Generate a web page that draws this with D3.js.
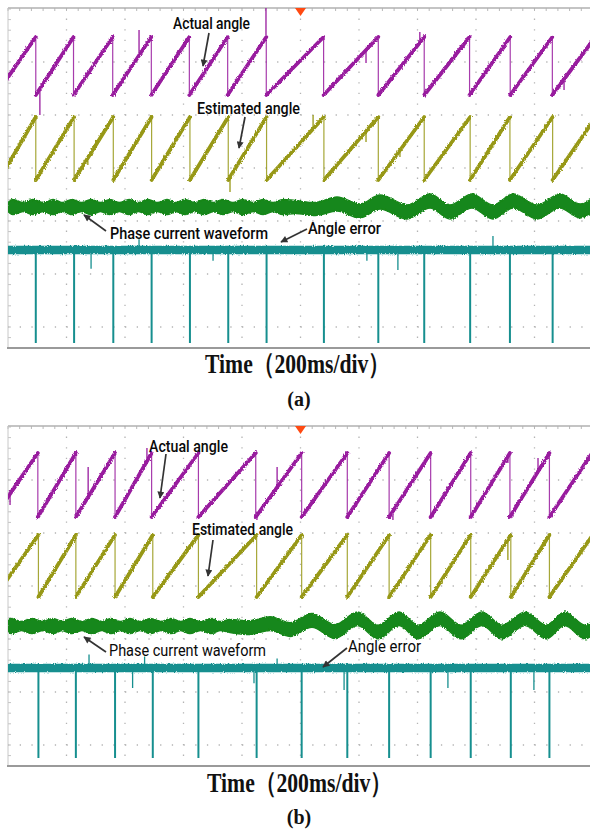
<!DOCTYPE html>
<html>
<head>
<meta charset="utf-8">
<script src="https://cdn.jsdelivr.net/npm/d3@7/dist/d3.min.js"></script>
<style>
  html, body { margin: 0; padding: 0; background: #fff; }
  svg { display: block; }
</style>
</head>
<body>
<svg id="chart" width="590" height="832"></svg>
<script>
// ---------------------------------------------------------------------------
// Scope captures: rotor angle, estimated angle, phase current and angle error.
// Time base: 10 divisions of 200 ms.
// ---------------------------------------------------------------------------
const divTicks = [0, 200, 400, 600, 800, 1000, 1200, 1400, 1600, 1800, 2000];
const panelNames = ["(a)", "(b)"];
const axisTitle = "Time（200ms/div）";

// Instants (ms) where the angle wraps from 360° back to 0°
const actualResetsA = [-42, 95, 224, 358, 490, 620, 751, 883, 1079, 1266, 1423, 1578, 1717, 1861, 2008];
const estResetsA    = [-30, 95, 226, 360, 491, 622, 753, 884, 1080, 1266, 1423, 1580, 1716, 1862, 2010];
const actualResetsB = [-47, 102, 232, 366, 491, 651, 847, 1004, 1160, 1303, 1445, 1582, 1716, 1851, 1997];
const estResetsB    = [-45, 104, 232, 366, 495, 651, 850, 1004, 1160, 1303, 1445, 1582, 1719, 1851, 1999];

// Short glitches on the angle traces: [time ms, angle °]
const actualGlitchesA = [[109, -124], [448, 403], [882, 540], [1224, 199], [1408, 391], [1901, 31]];
const estGlitchesA    = [[273, 86], [759, -69], [1043, 371], [1224, 217], [1340, 131]];
const actualGlitchesB = [[7, 67], [274, 281], [475, 388], [851, -17], [920, 281], [1316, -17], [1501, 135], [1709, 304], [1812, 332]];
const estGlitchesB    = [[274, 116], [1709, 215]];

// Phase current envelope: knot times (ms), band centre (A), band half-height (A)
const curTimesA = [0, 17, 51, 85, 120, 154, 186, 219, 251, 284, 316, 349, 381, 414, 446, 479, 511, 544, 574, 605,
                   638, 670, 703, 735, 769, 803, 838, 872, 906, 940, 981, 1050, 1125, 1203, 1272, 1364, 1443, 1511,
                   1586, 1658, 1727, 1809, 1887, 1956, 2000];
const curMidA   = [0, 0, 0, 0, 0, 0, 0, 0, 0, 0, 0, 0, 0, 0, 0, 0, 0, 0, 0, 0,
                   0, 0, 0, 0, 0, 0, 0, 0, 0, 0, 0, -0.5, 0.75, -1, 1.25, -1.25, 1.5, -1.25,
                   1.5, -1.25, 1.5, -1.25, 1.5, -1, 0.5];
const curHalfA  = [1.1, 1.9, 1.1, 1.9, 1.1, 1.9, 1.1, 1.9, 1.1, 1.9, 1.1, 1.9, 1.1, 1.9, 1.1, 1.9, 1.1, 1.9, 1.1, 1.9,
                   1.1, 1.9, 1.1, 1.9, 1.1, 1.9, 1.1, 1.9, 1.1, 1.9, 1.6, 1.6, 1.75, 1.75, 1.75, 1.75, 1.75, 1.75,
                   1.75, 1.75, 1.75, 1.75, 1.75, 1.75, 1.75];

const curTimesB = [0, 10, 46, 82, 118, 154, 185, 217, 253, 287, 320, 352, 385, 417, 451, 487, 523, 557, 590, 622,
                   658, 694, 725, 759, 827, 896, 964, 1039, 1118, 1195, 1265, 1337, 1402, 1477, 1549, 1620, 1689,
                   1768, 1840, 1903, 1973, 2000];
const curMidB   = [0, 0, 0, 0, 0, 0, 0, 0, 0, 0, 0, 0, 0, 0, 0, 0, 0, 0, 0, 0,
                   0, 0, 0, 0, -0.4, 0.6, -0.9, 1.4, -1.4, 1.8, -1.5, 1.8, -1.5, 1.8, -1.5, 1.8, -1.5,
                   1.8, -1.5, 1.8, -1.5, -0.5];
const curHalfB  = [1.1, 1.9, 1.1, 1.9, 1.1, 1.9, 1.1, 1.9, 1.1, 1.9, 1.1, 1.9, 1.1, 1.9, 1.1, 1.9, 1.1, 1.9, 1.1, 1.9,
                   1.1, 1.9, 1.1, 1.6, 1.7, 1.7, 1.7, 1.7, 1.7, 1.7, 1.7, 1.7, 1.7, 1.7, 1.7, 1.7, 1.7,
                   1.7, 1.7, 1.7, 1.7, 1.7];

// Small excursions on the angle-error trace: [time ms, error °]
const errGlitchesA = [[284, -73], [448, 42], [701, -42], [1227, -42], [1333, -77], [1658, 54]];
const errGlitchesB = [[277, 54], [426, -80], [467, 46], [841, -61], [920, 38], [1149, -88], [1504, -80], [1798, -88]];
// Depth of the wrap spikes on the angle-error trace (°)
const errSpikeDepth = [-360, -360];

// Trace labels
const labelTexts = ["Actual angle", "Estimated angle", "Phase current waveform", "Angle error"];

// ---------------------------------------------------------------------------
const svg = d3.select("#chart");
const defs = svg.append("defs");

// jagged look of the sampled traces
const rough = defs.append("filter").attr("id", "rough")
  .attr("filterUnits", "userSpaceOnUse")
  .attr("x", 0).attr("y", 0).attr("width", 590).attr("height", 832);
rough.append("feTurbulence").attr("type", "fractalNoise").attr("baseFrequency", "0.9 0.6")
  .attr("numOctaves", 1).attr("seed", 4).attr("result", "n");
rough.append("feDisplacementMap").attr("in", "SourceGraphic").attr("in2", "n")
  .attr("scale", 3.4).attr("xChannelSelector", "R").attr("yChannelSelector", "G");

defs.append("marker").attr("id", "head")
  .attr("viewBox", "0 0 10 10").attr("refX", 9).attr("refY", 5)
  .attr("markerWidth", 9).attr("markerHeight", 7).attr("markerUnits", "userSpaceOnUse")
  .attr("orient", "auto")
  .append("path").attr("d", "M0,0 L10,5 L0,10 Z").attr("fill", "#333");

const x = d3.scaleLinear().domain([0, 2000]).range([8, 593]);

const COLORS = {
  actual: "#981a9e",
  est: "#979815",
  cur: "#14871a",
  err: "#168f8f",
  grid: "#b4b4b4"
};

const LABEL_FONT = "Roboto, 'Liberation Sans', Arial, sans-serif";

const panels = [
  {
    top: 8, bottom: 348,
    actual: { resets: actualResetsA, glitches: actualGlitchesA, range: [95, 37] },
    est: { resets: estResetsA, glitches: estGlitchesA, range: [180, 117] },
    cur: { t: curTimesA, mid: curMidA, half: curHalfA, centre: 207 },
    err: { resets: estResetsA, glitches: errGlitchesA, zero: 250, depth: errSpikeDepth[0], depthY: 343 },
    notes: [
      { text: labelTexts[0], x: 173, y: 29, w: 77, size: 17, weight: 500, from: [209, 33], to: [203, 66] },
      { text: labelTexts[1], x: 197, y: 114, w: 103, size: 17, weight: 500, from: [245, 117], to: [239, 148] },
      { text: labelTexts[2], x: 110, y: 239, w: 158, size: 17, weight: 500, from: [106, 231], to: [84, 215] },
      { text: labelTexts[3], x: 308, y: 234, w: 73, size: 17, weight: 500, from: [307, 229], to: [281, 242] }
    ],
    title: { x: 205, y: 373 },
    caption: { y: 406 }
  },
  {
    top: 426, bottom: 766,
    actual: { resets: actualResetsB, glitches: actualGlitchesB, range: [517, 453] },
    est: { resets: estResetsB, glitches: estGlitchesB, range: [597, 535] },
    cur: { t: curTimesB, mid: curMidB, half: curHalfB, centre: 626 },
    err: { resets: estResetsB, glitches: errGlitchesB, zero: 668, depth: errSpikeDepth[1], depthY: 758 },
    notes: [
      { text: labelTexts[0], x: 149, y: 452, w: 79, size: 17, weight: 500, from: [166, 454], to: [160, 498] },
      { text: labelTexts[1], x: 192, y: 535, w: 101, size: 17, weight: 500, from: [213, 540], to: [208, 576] },
      { text: labelTexts[2], x: 109, y: 656, w: 157, size: 16, weight: 400, from: [106, 652], to: [84, 637] },
      { text: labelTexts[3], x: 348, y: 652, w: 73, size: 16, weight: 400, from: [347, 648], to: [323, 667] }
    ],
    title: { x: 207, y: 792 },
    caption: { y: 824 }
  }
];

function angleAt(resets, t) {
  for (let i = 0; i < resets.length - 1; i++) {
    if (t >= resets[i] && t < resets[i + 1]) {
      return 360 * (t - resets[i]) / (resets[i + 1] - resets[i]);
    }
  }
  return 0;
}

panels.forEach((p, pi) => {
  const g = svg.append("g");
  const left = x(0), right = 590;

  const clipId = "clip" + pi;
  defs.append("clipPath").attr("id", clipId)
    .append("rect").attr("x", left).attr("y", p.top).attr("width", right - left).attr("height", p.bottom - p.top);

  // ---- graticule ----
  const rows = d3.range(1, 7).map(k => p.top + 54 + 53 * (k - 1)).filter(y => y < p.bottom - 4);
  const grid = g.append("g");
  grid.selectAll("line.v").data(divTicks.slice(1)).join("line")
    .attr("x1", d => x(d)).attr("x2", d => x(d))
    .attr("y1", p.top).attr("y2", p.bottom)
    .attr("stroke", COLORS.grid).attr("stroke-width", 1.3)
    .attr("stroke-dasharray", "1.3 9.3");
  grid.selectAll("line.h").data(rows).join("line")
    .attr("x1", left).attr("x2", right)
    .attr("y1", d => d).attr("y2", d => d)
    .attr("stroke", COLORS.grid).attr("stroke-width", 1.3)
    .attr("stroke-dasharray", "1.3 10.4");

  // minor ticks on the top and left edges
  const minorX = d3.range(0, 2001, 40);
  grid.selectAll("line.mt").data(minorX).join("line")
    .attr("x1", d => x(d)).attr("x2", d => x(d))
    .attr("y1", p.top).attr("y2", p.top + 3)
    .attr("stroke", "#b8b8b8").attr("stroke-width", 1);
  const minorY = d3.range(p.top + 54 - 53, p.bottom, 53 / 5);
  grid.selectAll("line.ml").data(minorY).join("line")
    .attr("x1", left).attr("x2", left + 3)
    .attr("y1", d => d).attr("y2", d => d)
    .attr("stroke", "#c4c4c4").attr("stroke-width", 1);

  // frame
  g.append("line").attr("x1", left).attr("x2", right).attr("y1", p.top).attr("y2", p.top)
    .attr("stroke", "#b0b0b0").attr("stroke-width", 1.5);
  g.append("line").attr("x1", left).attr("x2", left).attr("y1", p.top).attr("y2", p.bottom)
    .attr("stroke", "#c8c8c8").attr("stroke-width", 1);
  g.append("line").attr("x1", left - 1).attr("x2", right).attr("y1", p.bottom).attr("y2", p.bottom)
    .attr("stroke", "#9a9a9a").attr("stroke-width", 2);

  const plot = g.append("g").attr("clip-path", `url(#${clipId})`);

  // ---- angle traces (sawtooth) ----
  [["actual", COLORS.actual], ["est", COLORS.est]].forEach(([key, col]) => {
    const ch = p[key];
    const y = d3.scaleLinear().domain([0, 360]).range(ch.range);
    const pts = [];
    for (let i = 0; i < ch.resets.length - 1; i++) {
      pts.push([ch.resets[i], 0], [ch.resets[i + 1], 360]);
    }
    const line = d3.line().x(d => x(d[0])).y(d => y(d[1]));
    // wrap edges (thin)
    plot.append("path").attr("d", line(pts))
      .attr("fill", "none").attr("stroke", col).attr("stroke-width", 1.2).attr("stroke-opacity", 0.85);
    // ramps (noisy, thick)
    const ramps = [];
    for (let i = 0; i < ch.resets.length - 1; i++) ramps.push([[ch.resets[i], 0], [ch.resets[i + 1], 360]]);
    plot.append("g").attr("filter", "url(#rough)")
      .selectAll("path").data(ramps).join("path")
      .attr("d", d => line(d))
      .attr("fill", "none").attr("stroke", col).attr("stroke-width", 3.8).attr("stroke-linecap", "round");
    // glitches
    plot.selectAll(null).data(ch.glitches).join("line")
      .attr("x1", d => x(d[0])).attr("x2", d => x(d[0]))
      .attr("y1", d => y(angleAt(ch.resets, d[0]))).attr("y2", d => y(d[1]))
      .attr("stroke", col).attr("stroke-width", 1.3);
  });

  // ---- phase current band ----
  const cy = d3.scaleLinear().domain([-4, 4]).range([p.cur.centre + 16, p.cur.centre - 16]);
  const curData = p.cur.t.map((t, i) => ({ t, mid: p.cur.mid[i], half: p.cur.half[i] }));
  const area = d3.area()
    .x(d => x(d.t))
    .y0(d => cy(d.mid - d.half))
    .y1(d => cy(d.mid + d.half))
    .curve(d3.curveMonotoneX);
  plot.append("path").attr("d", area(curData))
    .attr("fill", COLORS.cur).attr("stroke", COLORS.cur).attr("stroke-width", 1.5)
    .attr("filter", "url(#rough)");

  // ---- angle error ----
  const ey = d3.scaleLinear().domain([p.err.depth, 0]).range([p.err.depthY, p.err.zero]);
  plot.append("line")
    .attr("x1", x(0)).attr("x2", x(2000))
    .attr("y1", ey(0)).attr("y2", ey(0))
    .attr("stroke", COLORS.err).attr("stroke-width", 8.5)
    .attr("filter", "url(#rough)");
  const spikes = p.err.resets.filter(t => t > 0 && t < 2000);
  plot.selectAll(null).data(spikes).join("line")
    .attr("x1", d => x(d)).attr("x2", d => x(d))
    .attr("y1", ey(0)).attr("y2", ey(p.err.depth))
    .attr("stroke", COLORS.err).attr("stroke-width", 2);
  plot.selectAll(null).data(p.err.glitches).join("line")
    .attr("x1", d => x(d[0])).attr("x2", d => x(d[0]))
    .attr("y1", ey(0)).attr("y2", d => ey(d[1]))
    .attr("stroke", COLORS.err).attr("stroke-width", 1.3);

  // trigger marker
  const mx = x(1000);
  g.append("path")
    .attr("d", `M${mx - 5.5},${p.top} L${mx + 5.5},${p.top} L${mx},${p.top + 8} Z`)
    .attr("fill", "#ff4a12");

  // ---- annotations ----
  p.notes.forEach(n => {
    g.append("line")
      .attr("x1", n.from[0]).attr("y1", n.from[1])
      .attr("x2", n.to[0]).attr("y2", n.to[1])
      .attr("stroke", "#333").attr("stroke-width", 1.7)
      .attr("marker-end", "url(#head)");
    g.append("text")
      .attr("x", n.x).attr("y", n.y)
      .attr("textLength", n.w).attr("lengthAdjust", "spacingAndGlyphs")
      .attr("font-family", LABEL_FONT)
      .attr("font-weight", n.weight)
      .attr("font-size", n.size).attr("fill", "#0a0a0a")
      .text(n.text);
  });

  // ---- axis title and caption ----
  g.append("text")
    .attr("x", p.title.x).attr("y", p.title.y)
    .attr("textLength", 185).attr("lengthAdjust", "spacingAndGlyphs")
    .attr("font-family", "'Liberation Serif', 'Times New Roman', serif")
    .attr("font-weight", "bold").attr("font-size", 28).attr("fill", "#111")
    .text(axisTitle);
  g.append("text")
    .attr("x", 299).attr("y", p.caption.y).attr("text-anchor", "middle")
    .attr("font-family", "'Liberation Serif', 'Times New Roman', serif")
    .attr("font-weight", "bold").attr("font-size", 20).attr("fill", "#111")
    .text(panelNames[pi]);
});
</script>
</body>
</html>
